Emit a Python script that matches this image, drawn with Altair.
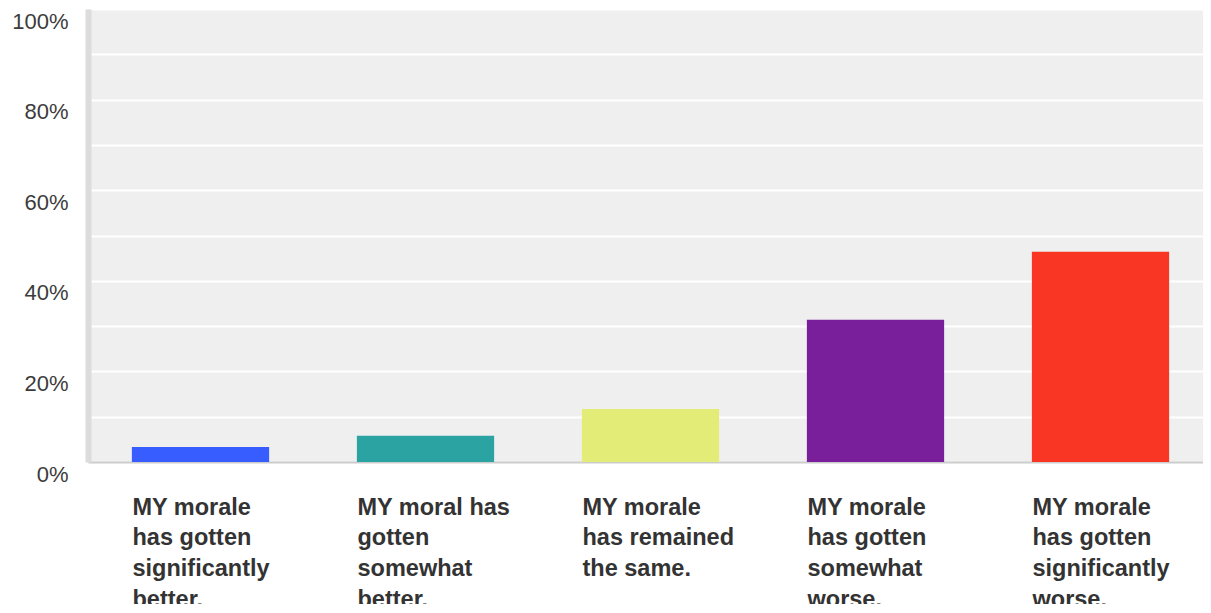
import altair as alt
import pandas as pd

categories = [
    "MY morale|has gotten|significantly|better.",
    "MY moral has|gotten|somewhat|better.",
    "MY morale|has remained|the same.",
    "MY morale|has gotten|somewhat|worse.",
    "MY morale|has gotten|significantly|worse.",
]
values = [3.3, 5.8, 11.7, 31.4, 46.4]
colors = ["#375cff", "#2ca3a3", "#e4ec78", "#7a1f9b", "#f93624"]

df = pd.DataFrame({"cat": categories, "pct": values, "color": colors})

chart = (
    alt.Chart(df)
    .mark_bar()
    .encode(
        x=alt.X(
            "cat:N",
            sort=None,
            scale=alt.Scale(paddingInner=0.39, paddingOuter=0.195, range=[0, 1125]),
            axis=alt.Axis(
                title=None,
                labelAngle=0,
                labelAlign="left",
                labelBaseline="top",
                labelOffset=-68,
                labelPadding=33,
                labelFont="Liberation Sans",
                labelFontSize=23.5,
                labelFontWeight="bold",
                labelColor="#333333",
                labelLineHeight=30.7,
                labelExpr="split(datum.label, '|')",
                ticks=False,
                domainColor="#cccccc",
                domainWidth=2,
                grid=False,
                labelLimit=300,
            ),
        ),
        y=alt.Y(
            "pct:Q",
            scale=alt.Scale(domain=[0, 100], nice=False),
            axis=alt.Axis(
                title=None,
                values=[0, 10, 20, 30, 40, 50, 60, 70, 80, 90, 100],
                labelExpr="datum.value % 20 == 0 ? datum.value + '%' : ''",
                labelFont="Liberation Sans",
                labelFontSize=22,
                labelColor="#3c3c3c",
                labelPadding=20,
                labelOffset=12,
                ticks=False,
                domainColor="#dcdcdc",
                domainWidth=6,
                gridColor="#ffffff",
                gridWidth=2,
                gridOpacity=1,
            ),
        ),
        color=alt.Color("color:N", scale=None, legend=None),
    )
    .properties(
        width=1115,
        height=453,
        autosize=alt.AutoSizeParams(type="none"),
        padding={"left": 80, "top": 1, "right": 0, "bottom": 142},
        background="#ffffff",
    )
    .configure_view(fill="#efefef", stroke=None)
)

chart.save("out.html", embed_options={"renderer": "svg", "actions": False})
